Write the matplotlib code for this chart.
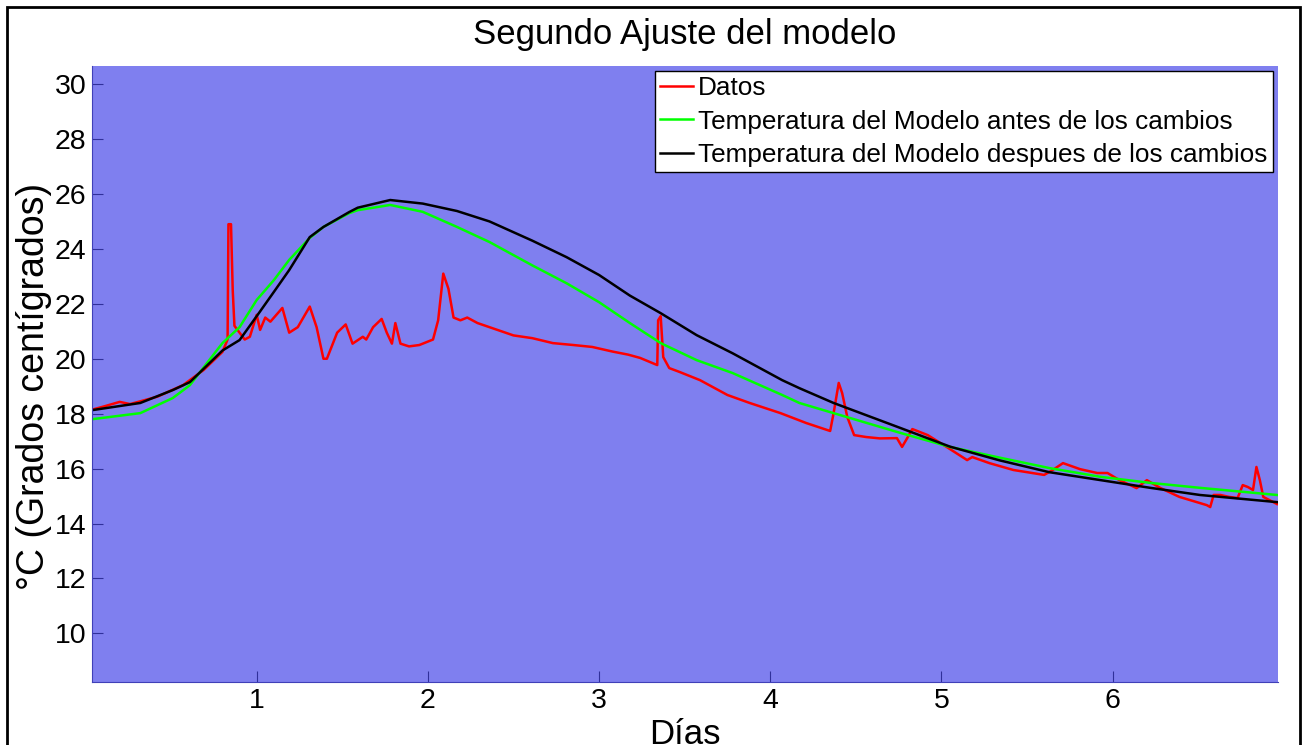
import matplotlib.pyplot as plt
from matplotlib.patches import Rectangle

plt.rcParams['font.family'] = ['Liberation Sans', 'DejaVu Sans']

# Datos medidos (dias, grados)
red_dias = [0.04, 0.10, 0.20, 0.26, 0.32, 0.42, 0.57, 0.69, 0.80, 0.83, 0.835, 0.85, 0.86, 0.87,
            0.93, 0.96, 1.00, 1.02, 1.05, 1.08, 1.15, 1.19, 1.24, 1.31, 1.35, 1.39, 1.41, 1.47,
            1.52, 1.56, 1.62, 1.64, 1.68, 1.73, 1.76, 1.79, 1.81, 1.84, 1.89, 1.95, 2.03, 2.06,
            2.09, 2.12, 2.15, 2.19, 2.23, 2.29, 2.36, 2.50, 2.61, 2.73, 2.85, 2.96, 3.08, 3.17,
            3.24, 3.34, 3.345, 3.36, 3.375, 3.41, 3.47, 3.59, 3.75, 3.88, 4.06, 4.21, 4.35, 4.37,
            4.40, 4.42, 4.45, 4.49, 4.56, 4.64, 4.74, 4.77, 4.80, 4.83, 4.92, 5.03, 5.15, 5.18,
            5.28, 5.42, 5.60, 5.65, 5.71, 5.81, 5.91, 5.97, 6.04, 6.14, 6.20, 6.28, 6.39, 6.55,
            6.57, 6.59, 6.63, 6.68, 6.73, 6.76, 6.79, 6.82, 6.84, 6.86, 6.88, 6.96]
red_temp = [18.15, 18.25, 18.43, 18.35, 18.45, 18.62, 19.04, 19.59, 20.25, 20.7, 24.9, 24.9, 22.5, 21.2,
            20.7, 20.8, 21.6, 21.05, 21.5, 21.35, 21.85, 20.95, 21.15, 21.9, 21.15, 20.0, 20.0, 20.95,
            21.25, 20.55, 20.8, 20.7, 21.15, 21.45, 20.95, 20.55, 21.3, 20.55, 20.45, 20.5, 20.7, 21.4,
            23.1, 22.55, 21.5, 21.4, 21.5, 21.3, 21.15, 20.85, 20.75, 20.57, 20.5, 20.43, 20.26, 20.15,
            20.03, 19.77, 21.4, 21.55, 20.06, 19.66, 19.52, 19.22, 18.68, 18.39, 18.02, 17.66, 17.37, 18.02,
            19.12, 18.75, 17.88, 17.22, 17.15, 17.1, 17.11, 16.79, 17.11, 17.44, 17.22, 16.79, 16.31, 16.42,
            16.2, 15.95, 15.77, 15.95, 16.2, 15.98, 15.84, 15.84, 15.58, 15.29, 15.58, 15.29, 14.97, 14.67,
            14.6, 15.04, 15.04, 14.97, 14.93, 15.4, 15.33, 15.22, 16.06, 15.58, 14.97, 14.71]

# Modelos
mod_dias = [0.04, 0.32, 0.51, 0.61, 0.80, 0.90, 1.00, 1.10, 1.19, 1.31, 1.39, 1.54, 1.59, 1.78,
            1.97, 2.17, 2.36, 2.61, 2.81, 3.00, 3.18, 3.36, 3.57, 3.78, 4.07, 4.17, 4.37, 4.76,
            5.05, 5.34, 5.63, 5.93, 6.22, 6.51, 6.96]
verde_temp = [17.8, 18.02, 18.57, 19.04, 20.57, 21.15, 22.14, 22.86, 23.6, 24.4, 24.8, 25.3, 25.41, 25.6,
              25.35, 24.8, 24.25, 23.4, 22.75, 22.06, 21.3, 20.57, 19.95, 19.48, 18.68, 18.39, 18.02, 17.3,
              16.79, 16.4, 16.02, 15.7, 15.48, 15.3, 15.04]
negro_temp = [18.13, 18.39, 18.86, 19.15, 20.3, 20.68, 21.55, 22.43, 23.23, 24.43, 24.8, 25.34, 25.5, 25.78,
              25.65, 25.38, 25.0, 24.3, 23.7, 23.05, 22.3, 21.66, 20.86, 20.2, 19.22, 18.93, 18.39, 17.48,
              16.8, 16.3, 15.87, 15.58, 15.3, 15.04, 14.78]

fig = plt.figure(figsize=(13.03, 7.45), dpi=100)
ax = fig.add_axes([92 / 1303, 1 - 682 / 745, (1278 - 92) / 1303, (682 - 66) / 745])
ax.set_facecolor('#7f7fef')

ax.plot(red_dias, red_temp, color='#ff0000', lw=1.8, label='Datos')
ax.plot(mod_dias, verde_temp, color='#00ff00', lw=1.8, label='Temperatura del Modelo antes de los cambios')
ax.plot(mod_dias, negro_temp, color='black', lw=1.8, label='Temperatura del Modelo despues de los cambios')

ax.set_xlim(0.038, 6.966)
ax.set_ylim(8.23, 30.66)
ax.set_xticks([1, 2, 3, 4, 5, 6])
ax.set_yticks(range(10, 31, 2))
ax.tick_params(direction='in', length=8, color='#30309a', labelsize=20.5, pad=4)
for s in ['top', 'right']:
    ax.spines[s].set_visible(False)
for s in ['left', 'bottom']:
    ax.spines[s].set_color('#4040b8')

ax.set_title('Segundo Ajuste del modelo', fontsize=25, pad=16)
ax.set_xlabel('Días', fontsize=25, labelpad=3)
ax.set_ylabel('°C (Grados centígrados)', fontsize=27)
ax.yaxis.set_label_coords(-0.034, 0.479)

leg = ax.legend(loc='upper right', fontsize=18.8, handlelength=1.25, handletextpad=0.2,
                borderaxespad=0.2, borderpad=0.2, labelspacing=0.35, fancybox=False)
leg.get_frame().set_edgecolor('black')
leg.get_frame().set_facecolor('white')
leg.get_frame().set_alpha(1)

fig.patches.append(Rectangle((7 / 1303, -0.01), 1293 / 1303, 1 - 7 / 745 + 0.01,
                             transform=fig.transFigure, fill=False, ec='black', lw=2))

fig.savefig('out.png', dpi=100)
